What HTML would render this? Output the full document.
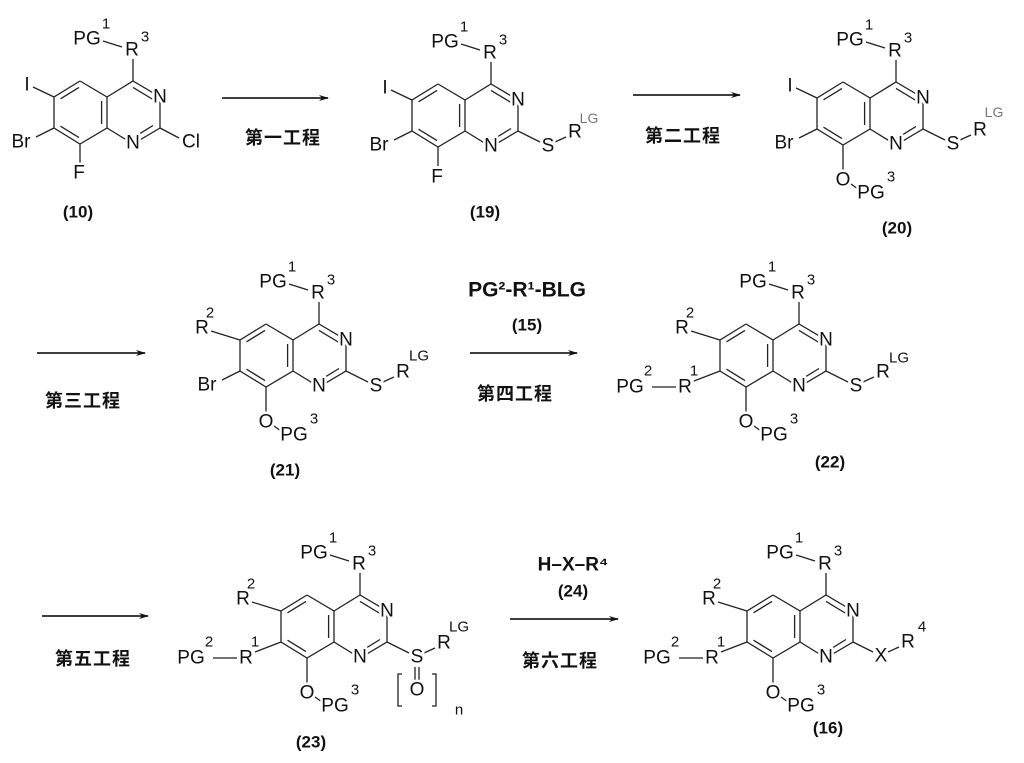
<!DOCTYPE html>
<html><head><meta charset="utf-8"><style>
html,body{margin:0;padding:0;background:#fff}
svg{display:block}
text{font-family:"Liberation Sans","Noto Sans CJK JP",sans-serif;fill:#111;text-anchor:middle;dominant-baseline:central}
.a{font-size:19px;stroke:#fff;stroke-width:5px;paint-order:stroke;stroke-linejoin:round}
.s{font-size:15px}
.g{font-size:14px;fill:#777}
.c{font-size:17px;font-weight:bold}
.j{font-size:18px;font-weight:bold;letter-spacing:1px;font-family:"Noto Sans CJK JP","WenQuanYi Zen Hei",sans-serif}
.b{font-size:21px;font-weight:bold}
line,polyline{stroke:#222;stroke-width:1.3;fill:none}
.ar{stroke-width:1.8}
</style></head><body>
<svg width="1024" height="763" viewBox="0 0 1024 763" xmlns="http://www.w3.org/2000/svg">
<defs>
<g id="core">
<polyline points="-27,-16 -53,0 -53,31 -27,47 0,31 0,0 -27,-16"/>
<polyline points="0,0 26,-16 53,0 53,31 26,47 0,31"/>
<line x1="-28" y1="-9.6" x2="-46.5" y2="1.8"/>
<line x1="-46.5" y1="29.2" x2="-28" y2="40.6"/>
<line x1="-5.4" y1="4" x2="-5.4" y2="27"/>
<line x1="26" y1="-9.6" x2="46" y2="2.5"/>
<line x1="46" y1="28.5" x2="26" y2="40.8"/>
<line x1="26" y1="-16" x2="26" y2="-38"/>
<line x1="-4" y1="-56" x2="15" y2="-50"/>
</g>
<g id="pg1">
<text class="a" x="-20" y="-58">PG</text><text class="s" x="-1" y="-73">1</text>
<text class="a" x="25" y="-47">R</text><text class="s" x="38" y="-60">3</text>
<text class="a" x="53" y="0">N</text><text class="a" x="26" y="46">N</text>
</g>
<g id="opg">
<line x1="-27" y1="47" x2="-27" y2="72"/>
<line x1="-19" y1="86" x2="-12" y2="91"/>
<text class="a" x="-27" y="82">O</text><text class="a" x="1" y="95">PG</text><text class="s" x="21" y="79">3</text>
</g>
<g id="r2">
<line x1="-53" y1="0" x2="-82" y2="-9"/>
<text class="a" x="-91" y="-12">R</text><text class="s" x="-83" y="-27">2</text>
</g>
<g id="pg2">
<line x1="-53" y1="31" x2="-79" y2="41"/>
<line x1="-121" y1="47" x2="-97" y2="47"/>
<text class="a" x="-143" y="47">PG</text><text class="s" x="-125" y="31">2</text>
<text class="a" x="-88" y="47">R</text><text class="s" x="-79" y="31">1</text>
</g>
<g id="ibr">
<line x1="-53" y1="0" x2="-74" y2="-10"/>
<line x1="-53" y1="31" x2="-71" y2="40"/>
<text class="a" x="-80" y="-12">I</text><text class="a" x="-86" y="45">Br</text>
</g>
<g id="sr">
<line x1="53" y1="31" x2="75" y2="42"/>
<line x1="90" y1="42" x2="101" y2="37"/>
<text class="a" x="83" y="46">S</text><text class="a" x="110" y="32">R</text>
</g>
<marker id="ah" markerWidth="10" markerHeight="6" refX="9" refY="3" orient="auto" markerUnits="userSpaceOnUse"><path d="M0,0 L10,3 L0,6 L3,3 z" fill="#111"/></marker>
</defs>

<!-- 10 -->
<g transform="translate(107,97)">
<use href="#core"/><use href="#ibr"/>
<line x1="-27" y1="47" x2="-27" y2="66"/>
<line x1="53" y1="31" x2="72" y2="41"/>
<use href="#pg1"/>
<text class="a" x="-28" y="76">F</text><text class="a" x="84" y="45">Cl</text>
</g>
<text class="c" x="78" y="212">(10)</text>

<line class="ar" x1="222" y1="98" x2="328" y2="98" marker-end="url(#ah)"/>
<text class="j" x="283" y="137">第一工程</text>

<!-- 19 -->
<g transform="translate(465,100)">
<use href="#core"/><use href="#ibr"/><use href="#sr"/>
<line x1="-27" y1="47" x2="-27" y2="66"/>
<use href="#pg1"/>
<text class="a" x="-28" y="77">F</text><text class="g" x="124" y="18">LG</text>
</g>
<text class="c" x="485" y="212">(19)</text>

<line class="ar" x1="633" y1="95" x2="740" y2="95" marker-end="url(#ah)"/>
<text class="j" x="683" y="135">第二工程</text>

<!-- 20 -->
<g transform="translate(870,98)">
<use href="#core"/><use href="#ibr"/><use href="#sr"/><use href="#opg"/>
<use href="#pg1"/>
<text class="g" x="124" y="14">LG</text>
</g>
<text class="c" x="897" y="228">(20)</text>

<!-- row 2 -->
<line class="ar" x1="37" y1="353" x2="145" y2="353" marker-end="url(#ah)"/>
<text class="j" x="83" y="400">第三工程</text>

<g transform="translate(293,340)">
<use href="#core"/><use href="#r2"/><use href="#sr"/><use href="#opg"/>
<line x1="-53" y1="31" x2="-71" y2="40"/>
<text class="a" x="-86" y="45">Br</text>
<use href="#pg1"/>
<text class="s" x="126" y="16">LG</text>
</g>
<text class="c" x="285" y="470">(21)</text>

<text class="b" x="527" y="290">PG²-R¹-BLG</text>
<text class="c" x="527" y="325">(15)</text>
<line class="ar" x1="470" y1="353" x2="577" y2="353" marker-end="url(#ah)"/>
<text class="j" x="515" y="393">第四工程</text>

<g transform="translate(773,340)">
<use href="#core"/><use href="#r2"/><use href="#pg2"/><use href="#sr"/><use href="#opg"/>
<use href="#pg1"/>
<text class="s" x="126" y="18">LG</text>
</g>
<text class="c" x="830" y="462">(22)</text>

<!-- row 3 -->
<line class="ar" x1="42" y1="616" x2="148" y2="616" marker-end="url(#ah)"/>
<text class="j" x="93" y="658">第五工程</text>

<g transform="translate(334,611)">
<use href="#core"/><use href="#r2"/><use href="#pg2"/><use href="#sr"/><use href="#opg"/>
<use href="#pg1"/>
<text class="s" x="125" y="16">LG</text>
<line x1="81" y1="56" x2="81" y2="69"/><line x1="85" y1="56" x2="85" y2="69"/>
<text class="a" x="83" y="79">O</text>
<polyline points="68,63 64,63 64,95 68,95"/>
<polyline points="98,63 102,63 102,95 98,95"/>
<text class="s" x="125" y="99">n</text>
</g>
<text class="c" x="311" y="742">(23)</text>

<text class="b" x="573" y="565" style="font-size:19px">H–X–R⁴</text>
<text class="c" x="573" y="591">(24)</text>
<line class="ar" x1="510" y1="619" x2="618" y2="619" marker-end="url(#ah)"/>
<text class="j" x="560" y="660">第六工程</text>

<g transform="translate(800,611)">
<use href="#core"/><use href="#r2"/><use href="#pg2"/><use href="#opg"/>
<line x1="53" y1="31" x2="73" y2="41"/>
<line x1="88" y1="41" x2="99" y2="36"/>
<text class="a" x="81" y="45">X</text><text class="a" x="108" y="31">R</text><text class="s" x="122" y="16">4</text>
<use href="#pg1"/>
</g>
<text class="c" x="828" y="728">(16)</text>
</svg>
</body></html>
